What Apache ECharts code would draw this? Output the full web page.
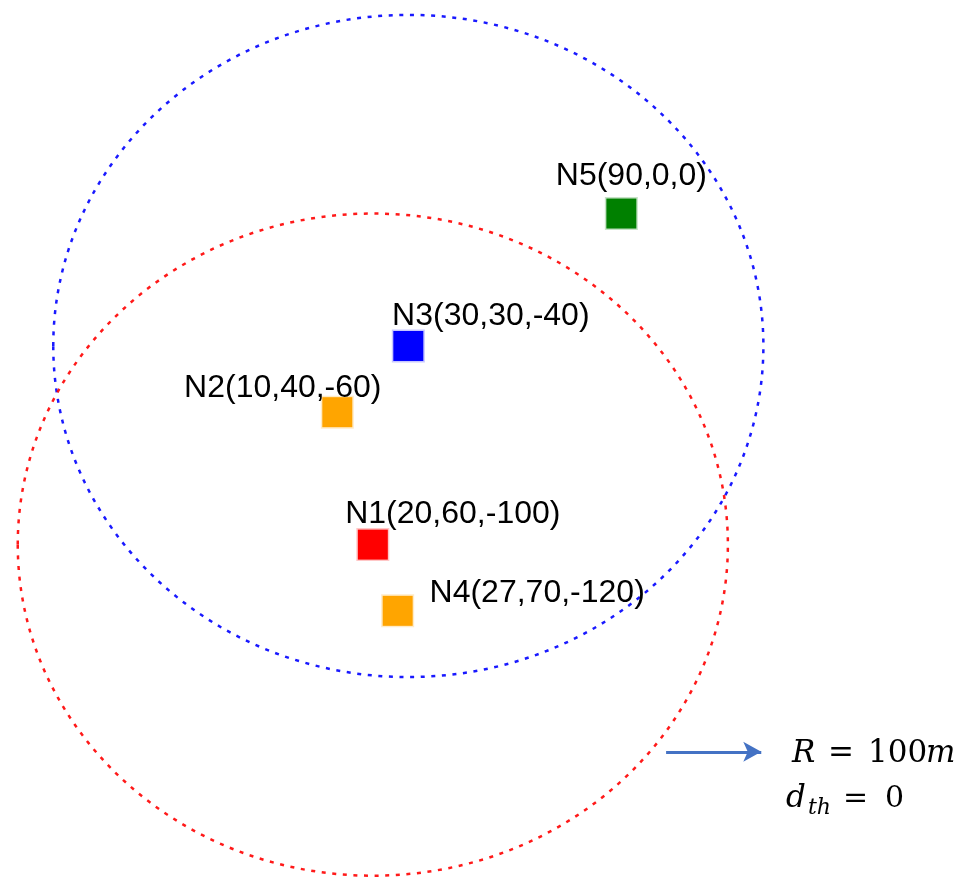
<!DOCTYPE html>
<html><head><meta charset="utf-8">
<script src="https://cdn.jsdelivr.net/npm/echarts@6/dist/echarts.min.js"></script>
<style>html,body{margin:0;padding:0;background:#fff}#c{width:964px;height:879px}</style>
</head><body><div id="c"></div>
<script>
// ---- data ----
const nodeNames = ['N1', 'N2', 'N3', 'N4', 'N5'];
const nodeX = [20, 10, 30, 27, 90];
const nodeY = [60, 40, 30, 70, 0];
const nodeZ = [-100, -60, -40, -120, 0];
const rangeCenters = ['N3', 'N1'];   // nodes whose range circle is drawn
const rangeRadius = 100;             // R = 100 m
const arrowFrom = [102.6, -162.6];
const arrowTo = [129.4, -162.6];

// ---- styles ----
const nodeColors = ['#FF0000', '#FFA500', '#0000FF', '#FFA500', '#008000'];
const nodeHalo = ['rgba(255,0,0,0.22)', 'rgba(255,165,0,0.22)', 'rgba(0,0,255,0.22)', 'rgba(255,165,0,0.22)', 'rgba(0,128,0,0.22)'];
const labelOffsets = [[80, -30], [-54.5, -24], [82.5, -30], [139.5, -18], [10, -37]];
const rangeColors = ['#0000FF', '#FF0000'];

const chart = echarts.init(document.getElementById('c'), null, { renderer: 'canvas' });

const scatterData = nodeNames.map((n, i) => ({
  name: n,
  value: [nodeX[i], nodeZ[i]],
  itemStyle: { color: nodeColors[i], borderColor: nodeHalo[i], borderWidth: 3, opacity: 1 },
  label: { offset: labelOffsets[i] }
}));

const circleData = rangeCenters.map(n => {
  const i = nodeNames.indexOf(n);
  return [nodeX[i], nodeZ[i], rangeRadius];
});

const mathFont = '"DejaVu Serif", "Liberation Serif", serif';

chart.setOption({
  animation: false,
  backgroundColor: '#ffffff',
  grid: { left: 0, right: 0, top: 0, bottom: 0 },
  xAxis: { type: 'value', min: -85, max: 186.5, show: false },
  yAxis: { type: 'value', min: -201, max: 64.5, show: false },
  series: [
    {
      type: 'custom',
      data: circleData,
      silent: true,
      z: 1,
      renderItem: (params, api) => {
        const c = api.coord([api.value(0), api.value(1)]);
        const s = api.size([api.value(2), api.value(2)]);
        return {
          type: 'ellipse',
          shape: { cx: c[0], cy: c[1], rx: s[0], ry: s[1] },
          style: {
            fill: null,
            stroke: rangeColors[params.dataIndex],
            lineWidth: 2.5,
            lineDash: [4, 6.6],
            opacity: 0.9
          }
        };
      }
    },
    {
      type: 'scatter',
      z: 3,
      symbol: 'rect',
      symbolSize: 30,
      itemStyle: { opacity: 1 },
      data: scatterData,
      label: {
        show: true,
        position: 'inside',
        align: 'center',
        verticalAlign: 'middle',
        fontFamily: '"Liberation Sans", Arial, sans-serif',
        fontSize: 32,
        color: '#000',
        opacity: 1,
        formatter: p => {
          const i = p.dataIndex;
          return nodeNames[i] + '(' + nodeX[i] + ',' + nodeY[i] + ',' + nodeZ[i] + ')';
        }
      },
      markLine: {
        silent: true,
        symbol: ['none', 'arrow'],
        symbolSize: [15, 18],
        label: { show: false },
        lineStyle: { color: '#4472C4', width: 3, type: 'solid', opacity: 1 },
        data: [[{ coord: arrowFrom }, { coord: arrowTo }]]
      }
    }
  ],
  graphic: [
    { type: 'text', x: 792, y: 754, style: { text: 'R', font: 'italic 31px ' + mathFont, fill: '#000', verticalAlign: 'middle' } },
    { type: 'text', x: 828, y: 754, style: { text: '=', font: '31px ' + mathFont, fill: '#000', verticalAlign: 'middle' } },
    { type: 'text', x: 868, y: 754, style: { text: '100', font: '31px ' + mathFont, fill: '#000', verticalAlign: 'middle' } },
    { type: 'text', x: 926, y: 754, style: { text: 'm', font: 'italic 31px ' + mathFont, fill: '#000', verticalAlign: 'middle' } },
    { type: 'text', x: 786, y: 799, style: { text: 'd', font: 'italic 31px ' + mathFont, fill: '#000', verticalAlign: 'middle' } },
    { type: 'text', x: 808, y: 808, style: { text: 'th', font: 'italic 22px ' + mathFont, fill: '#000', verticalAlign: 'middle' } },
    { type: 'text', x: 843, y: 799, style: { text: '=', font: '30px ' + mathFont, fill: '#000', verticalAlign: 'middle' } },
    { type: 'text', x: 885, y: 799, style: { text: '0', font: '30px ' + mathFont, fill: '#000', verticalAlign: 'middle' } }
  ]
});
</script>
</body></html>
